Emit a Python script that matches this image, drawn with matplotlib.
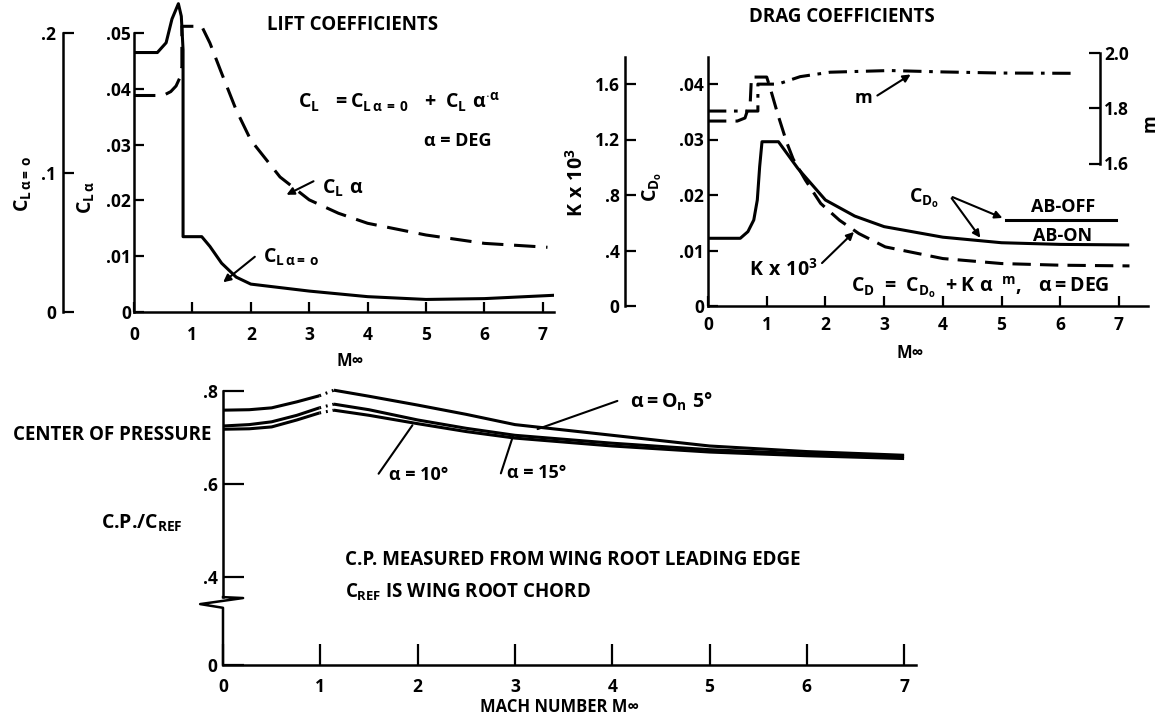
import matplotlib
matplotlib.use("Agg")
import matplotlib.pyplot as plt
from matplotlib.transforms import blended_transform_factory

# ------------------------------------------------------------------ data
# LIFT COEFFICIENTS
lift_mach_cla = [0, 0.5, 0.63, 0.72, 0.79, 0.82, 0.82, 1.16, 1.3, 1.5, 1.75, 2.0, 2.5, 3.0, 3.5, 4.0, 5.0, 6.0, 7.08]
lift_cla = [0.0388, 0.0388, 0.0395, 0.0405, 0.0421, 0.0440, 0.0512, 0.0512, 0.0482, 0.0428, 0.0362, 0.0308,
            0.0242, 0.0201, 0.0177, 0.0159, 0.0138, 0.0123, 0.0116]
lift_mach_cl0 = [0, 0.40, 0.55, 0.65, 0.76, 0.81, 0.84, 0.84, 1.16, 1.3, 1.5, 1.75, 2.0, 2.5, 3.0, 4.0, 5.0, 6.0, 7.2]
lift_cl0 = [0.186, 0.186, 0.193, 0.210, 0.221, 0.212, 0.188, 0.054, 0.054, 0.047, 0.035, 0.025, 0.020,
            0.0175, 0.015, 0.011, 0.009, 0.0096, 0.012]
lift_xticks = [0, 1, 2, 3, 4, 5, 6, 7]
cla_ticks = [0, 0.01, 0.02, 0.03, 0.04, 0.05]
cla_ticklabels = ["0", ".01", ".02", ".03", ".04", ".05"]
cl0_ticks = [0, 0.1, 0.2]
cl0_ticklabels = ["0", ".1", ".2"]

# DRAG COEFFICIENTS
drag_mach_on = [0, 0.55, 0.68, 0.78, 0.84, 0.88, 0.92, 1.2, 1.53, 2.0, 2.5, 3.0, 4.0, 5.0, 6.0, 7.15]
cdo_ab_on = [0.0122, 0.0122, 0.0134, 0.0155, 0.0191, 0.0251, 0.0296, 0.0296, 0.0248, 0.0191, 0.0162,
             0.0143, 0.0124, 0.0114, 0.0111, 0.0110]
drag_mach_off = [5.07, 6.95]
cdo_ab_off = [0.0155, 0.0155]
drag_mach_k = [0, 0.5, 0.63, 0.72, 0.74, 1.0, 1.06, 1.19, 1.34, 1.45, 1.66, 1.92, 2.24, 2.57, 3.02, 4.0, 5.0, 6.0, 7.18]
k_e3 = [1.333, 1.333, 1.355, 1.47, 1.65, 1.65, 1.57, 1.38, 1.18, 1.06, 0.907, 0.739, 0.618, 0.522, 0.426,
        0.342, 0.306, 0.294, 0.289]
drag_mach_m = [0, 0.55, 0.85, 0.85, 1.19, 1.57, 2.08, 3.1, 4.0, 5.0, 6.27]
m_exp = [1.789, 1.789, 1.789, 1.886, 1.886, 1.913, 1.929, 1.935, 1.930, 1.926, 1.925]
drag_xticks = [0, 1, 2, 3, 4, 5, 6, 7]
cdo_ticks = [0, 0.01, 0.02, 0.03, 0.04]
cdo_ticklabels = ["0", ".01", ".02", ".03", ".04"]
k_ticks = [0, 0.4, 0.8, 1.2, 1.6]
k_ticklabels = ["0", ".4", ".8", "1.2", "1.6"]
m_ticks = [1.6, 1.8, 2.0]
m_ticklabels = ["1.6", "1.8", "2.0"]

# CENTER OF PRESSURE
cp_mach_sub = [0, 0.27, 0.5, 0.76, 0.99]
cp_a05_sub = [0.759, 0.760, 0.764, 0.777, 0.790]
cp_a10_sub = [0.725, 0.728, 0.734, 0.748, 0.764]
cp_a15_sub = [0.718, 0.719, 0.723, 0.738, 0.753]
cp_mach_sup = [1.14, 1.5, 2.0, 2.5, 3.0, 4.0, 5.0, 6.0, 7.0]
cp_a05_sup = [0.802, 0.789, 0.770, 0.750, 0.728, 0.705, 0.682, 0.670, 0.662]
cp_a10_sup = [0.772, 0.760, 0.738, 0.720, 0.705, 0.688, 0.674, 0.665, 0.659]
cp_a15_sup = [0.759, 0.748, 0.730, 0.713, 0.699, 0.682, 0.669, 0.661, 0.655]
cp_xticks = [0, 1, 2, 3, 4, 5, 6, 7]
cp_floor = 0.211          # value drawn at the bottom of the broken axis
cp_break = (0.357, 0.334)
cp_yticks = [cp_floor, 0.4, 0.6, 0.8]
cp_yticklabels = ["0", ".4", ".6", ".8"]

# ------------------------------------------------------------------ style
plt.rcParams["font.family"] = ["Open Sans", "DejaVu Sans"]
plt.rcParams["font.weight"] = "bold"
plt.rcParams["mathtext.fontset"] = "custom"
for k in ("rm", "it", "bf", "sf"):
    plt.rcParams["mathtext." + k] = "Open Sans:bold"

W, H = 1159, 716
fig = plt.figure(figsize=(W / 100, H / 100), dpi=100)
fig.patch.set_facecolor("white")

LW = 2.2
SP = 1.8
FS = 13          # annotation text
TS = 12.5        # tick labels
MS = 14          # text with sub/superscripts


def rect(x0, y0, x1, y1):
    return [x0 / W, 1 - y1 / H, (x1 - x0) / W, (y1 - y0) / H]


def txt(x, y, s, size=FS, ha="left", rot=0, **kw):
    fig.text(x / W, 1 - y / H, s, ha=ha, va="center", fontsize=size,
             fontweight="bold", rotation=rot, **kw)


def arrow(x0, y0, x1, y1, head=True):
    fig.add_artist(matplotlib.patches.FancyArrowPatch(
        (x0 / W, 1 - y0 / H), (x1 / W, 1 - y1 / H), transform=fig.transFigure,
        arrowstyle="-|>" if head else "-", mutation_scale=11, lw=1.5, color="black"))


def style_axes(ax, ticklen=7):
    for s in ("top", "right"):
        ax.spines[s].set_visible(False)
    for s in ("left", "bottom"):
        ax.spines[s].set_linewidth(SP)
    ax.tick_params(direction="in", length=ticklen, width=1.6, labelsize=TS)
    ax.set_facecolor("none")


# ------------------------------------------------------------------ lift
yl_top = 0.0558
axL = fig.add_axes(rect(134, 312 - yl_top * 5580, 134 + 7.2 * 58.4, 312))
style_axes(axL)
axL.set_xlim(0, 7.2)
axL.set_ylim(0, yl_top)
axL.spines["left"].set_bounds(0, 0.05)
axL.set_xticks(lift_xticks)
axL.set_yticks(cla_ticks, cla_ticklabels)
axL.tick_params(axis="y", pad=2)
axL.tick_params(axis="x", pad=10)
axL.plot(lift_mach_cla, lift_cla, color="black", lw=LW, ls=(0, (7, 3.5)))

axL0 = axL.twinx()
axL0.set_ylim(0, yl_top * 4)
for s in ("top", "bottom", "right"):
    axL0.spines[s].set_visible(False)
axL0.spines["left"].set_visible(True)
axL0.spines["left"].set_linewidth(SP)
axL0.spines["left"].set_position(("axes", (63 - 134) / (7.2 * 58.4)))
axL0.spines["left"].set_bounds(0, 0.2)
axL0.yaxis.tick_left()
axL0.set_yticks(cl0_ticks, cl0_ticklabels)
axL0.tick_params(direction="in", length=8, width=1.6, labelsize=TS, pad=5)
axL0.plot(lift_mach_cl0, lift_cl0, color="black", lw=LW)

txt(353, 25, "LIFT COEFFICIENTS", ha="center", size=13.5)
txt(298, 102, r"$C_L\ \ = C_{L\,α\,=\,0}\ \ +\ C_L\ α^{\cdot α}$", size=MS)
txt(458, 141, "α = DEG", ha="center")
txt(322, 188, r"$C_L\ α$", size=MS)
arrow(316, 180, 284, 196)
txt(263, 257, r"$C_{L\,α=\,o}$", size=MS)
arrow(257, 255, 221, 284)
txt(86, 198, r"$C_{L\,α}$", ha="center", rot=90, size=MS)
txt(23, 184, r"$C_{L\,α=\,o}$", ha="center", rot=90, size=MS)
txt(350, 361, "M∞", ha="center", size=12)

# ------------------------------------------------------------------ drag
yd_top = 0.047
axD = fig.add_axes(rect(708, 306 - yd_top * 5550, 708 + 7.5 * 58.7, 306))
style_axes(axD)
axD.set_xlim(0, 7.5)
axD.set_ylim(0, yd_top)
axD.spines["left"].set_bounds(0, 0.0449)
axD.set_xticks(drag_xticks)
axD.set_yticks(cdo_ticks, cdo_ticklabels)
axD.tick_params(axis="y", pad=3)
axD.tick_params(axis="x", pad=7)
axD.plot(drag_mach_on, cdo_ab_on, color="black", lw=LW)
axD.plot(drag_mach_off, cdo_ab_off, color="black", lw=LW)

axK = axD.twinx()
axK.set_ylim(0, yd_top * 40)
for s in ("top", "bottom", "right"):
    axK.spines[s].set_visible(False)
axK.spines["left"].set_visible(True)
axK.spines["left"].set_linewidth(SP)
axK.spines["left"].set_position(("axes", (625 - 708) / (7.5 * 58.7)))
axK.spines["left"].set_bounds(0, 0.0449 * 40)
axK.yaxis.tick_left()
axK.set_yticks(k_ticks, k_ticklabels)
axK.tick_params(direction="in", length=8, width=1.6, labelsize=TS, pad=4)
axK.plot(drag_mach_k, k_e3, color="black", lw=LW, ls=(0, (6, 3)))

m18 = (306 - 108) / 5550
axM = axD.twinx()
axM.set_ylim(1.8 - m18 * 20, 1.8 + (yd_top - m18) * 20)
for s in ("top", "bottom", "left"):
    axM.spines[s].set_visible(False)
axM.spines["right"].set_linewidth(SP)
axM.spines["right"].set_position(("axes", (1100 - 708) / (7.5 * 58.7)))
axM.spines["right"].set_bounds(1.6, 2.0)
axM.set_yticks(m_ticks, m_ticklabels)
axM.tick_params(direction="in", length=8, width=1.6, labelsize=TS, pad=3)
axM.plot(drag_mach_m, m_exp, color="black", lw=LW, ls=(0, (6, 2.5, 1.2, 2.5)))

txt(842, 17, "DRAG COEFFICIENTS", ha="center", size=13.5)
txt(863, 98, "m", ha="center")
arrow(875, 97, 913, 73)
txt(577, 183, r"$K\ x\ 10^3$", ha="center", rot=90, size=MS)
txt(652, 187, r"$C_{D_o}$", ha="center", rot=90, size=MS)
txt(1150, 123, "m", ha="center", rot=90)
txt(909, 198, r"$C_{D_o}$", size=MS)
arrow(950, 196, 1005, 219)
arrow(950, 196, 982, 240)
txt(1031, 207, "AB-OFF", size=13)
txt(1033, 236, "AB-ON", size=13)
txt(749, 270, r"$K\ x\ 10^3$", size=MS)
arrow(820, 265, 856, 230)
txt(851, 287, r"$C_D\ =\ C_{D_o}\ +K\ α^{\ \ m},\ \ α = DEG$", size=MS)
txt(910, 353, "M∞", ha="center", size=12)

# ------------------------------------------------------------------ center of pressure
cp_top = 0.83
axC = fig.add_axes(rect(223, 665 - (cp_top - cp_floor) * 465, 223 + 7.12 * 97.3, 665))
style_axes(axC, ticklen=15)
axC.set_xlim(0, 7.12)
axC.set_ylim(cp_floor, cp_top)
axC.spines["left"].set_bounds(cp_break[0], 0.8)
axC.set_xticks(cp_xticks)
axC.set_yticks(cp_yticks, cp_yticklabels)
axC.tick_params(axis="x", pad=9)
axC.tick_params(axis="y", pad=4)
bt = blended_transform_factory(axC.transAxes, axC.transData)
axC.plot([0, 0.029, -0.033, 0, 0], [cp_break[0], cp_break[0] - 0.002, cp_break[1] + 0.008, cp_break[1], cp_floor],
         transform=bt, clip_on=False, color="black", lw=SP)

for sub, sup in ((cp_a05_sub, cp_a05_sup), (cp_a10_sub, cp_a10_sup), (cp_a15_sub, cp_a15_sup)):
    axC.plot(cp_mach_sub, sub, color="black", lw=LW, solid_capstyle="butt")
    axC.plot(cp_mach_sup, sup, color="black", lw=LW, solid_capstyle="butt")
    axC.plot([cp_mach_sub[-1], cp_mach_sup[0]], [sub[-1], sup[0]], color="black", lw=LW, ls=(0, (0.6, 1.6)))

txt(112, 435, "CENTER OF PRESSURE", ha="center", size=13.5)
txt(142, 523, r"C.P./$C_{REF}$", ha="center", size=MS)
txt(345, 560, "C.P. MEASURED FROM WING ROOT LEADING EDGE", size=13.5)
txt(345, 592, r"$C_{REF}$ IS WING ROOT CHORD", size=13.5)
txt(389, 475, "α = 10°")
arrow(377, 476, 414, 423, head=False)
txt(507, 473, "α = 15°")
arrow(500, 476, 514, 433, head=False)
txt(630, 402, r"$α = O_n\ 5°$", size=MS)
arrow(620, 400, 535, 430, head=False)
txt(560, 707, "MACH NUMBER M∞", ha="center", size=12)

fig.savefig("out.png", dpi=100, facecolor="white")
